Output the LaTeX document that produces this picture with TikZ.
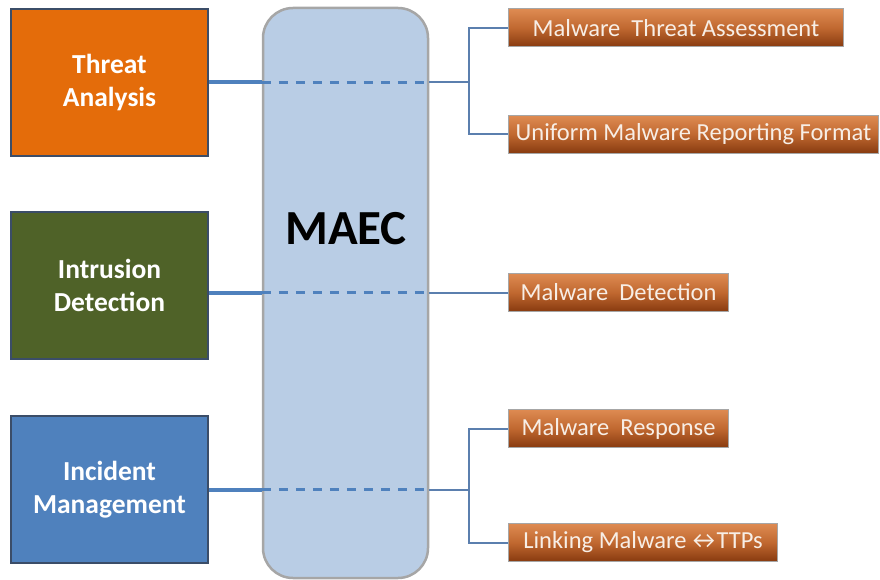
\documentclass[tikz,border=0pt]{standalone}
\usepackage{fontspec}
\setmainfont{Carlito}
\usetikzlibrary{calc}
\definecolor{taorange}{HTML}{E46C0A}
\definecolor{idgreen}{HTML}{4F6228}
\definecolor{imblue}{HTML}{4F81BD}
\definecolor{boxedge}{HTML}{3B4D68}
\definecolor{maecfill}{HTML}{B9CDE5}
\definecolor{maecedge}{HTML}{A6A6A6}
\definecolor{linkblue}{HTML}{4F81BD}
\definecolor{thinblue}{HTML}{5B7FAE}
\definecolor{tagtop}{HTML}{DE8B52}
\definecolor{tagmid}{HTML}{C06830}
\definecolor{tagbot}{HTML}{873A0F}
\definecolor{tagtext}{HTML}{F7EEE6}
\tikzset{
  area/.style={draw=boxedge, line width=2pt, minimum width=197pt, minimum height=147pt,
    text=white, font=\fontsize{27.5}{33}\selectfont\bfseries, align=center, inner sep=0pt},
  tag/.style={draw=maecedge, line width=1pt, minimum height=38pt, inner sep=0pt,
    top color=tagtop, bottom color=tagbot, middle color=tagmid,
    text=tagtext, font=\fontsize{24.5}{26}\selectfont, anchor=west},
  thick link/.style={draw=linkblue, line width=4pt},
  dash link/.style={draw=linkblue, line width=3pt, dash pattern=on 9pt off 8pt},
  thin link/.style={draw=thinblue, line width=2pt},
}
\begin{document}
\begin{tikzpicture}[x=1pt,y=-1pt]
\useasboundingbox (0,0) rectangle (880,580);

% central MAEC column
\node[draw=maecedge, fill=maecfill, line width=2.5pt, rounded corners=30pt,
      minimum width=165pt, minimum height=570pt, inner sep=0pt] (maec) at (345.5,293) {};
\node[font=\fontsize{49}{52}\selectfont\bfseries, text=black] (maectitle) at (346,229) {MAEC};

% application areas on the left
\node[area, fill=taorange] (ta) at (109.5,82.5) {Threat\\Analysis};
\node[area, fill=idgreen]  (id) at (109.5,285.5) {Intrusion\\Detection};
\node[area, fill=imblue]   (im) at (109.5,489.5) {Incident\\Management};

% use cases on the right
\node[tag, minimum width=335pt] (r1) at (508,28)    {Malware\ \ Threat Assessment};
\node[tag, minimum width=370pt] (r2) at (508,134.5) {Uniform Malware Reporting Format};
\node[tag, minimum width=220pt] (r3) at (508,292.5) {Malware\ \ Detection};
\node[tag, minimum width=220pt] (r4) at (508,428.5) {Malware\ \ Response};
\node[tag, minimum width=269pt] (r5) at (508,542.5) {Linking Malware\ \kern-4pt↔\kern-3pt TTPs};

% junction points of the brackets
\coordinate (j1) at ($(maec.east |- ta.east)+(40,0)$);
\coordinate (j3) at ($(maec.east |- im.east)+(40,0)$);

% Threat Analysis link
\path[thick link] (ta.east) -- (ta.east -| maec.west);
\path[dash link] (ta.east -| maec.west) -- (ta.east -| maec.east);
\path[thin link] (ta.east -| maec.east) -- (j1);
\path[thin link] (r1.west) -| (j1) |- (r2.west);

% Intrusion Detection link
\path[thick link] (id.east |- r3.west) -- (maec.west |- r3.west);
\path[dash link] (maec.west |- r3.west) -- (maec.east |- r3.west);
\path[thin link] (maec.east |- r3.west) -- (r3.west);

% Incident Management link
\path[thick link] (im.east) -- (im.east -| maec.west);
\path[dash link] (im.east -| maec.west) -- (im.east -| maec.east);
\path[thin link] (im.east -| maec.east) -- (j3);
\path[thin link] (r4.west) -| (j3) |- (r5.west);
\end{tikzpicture}
\end{document}
